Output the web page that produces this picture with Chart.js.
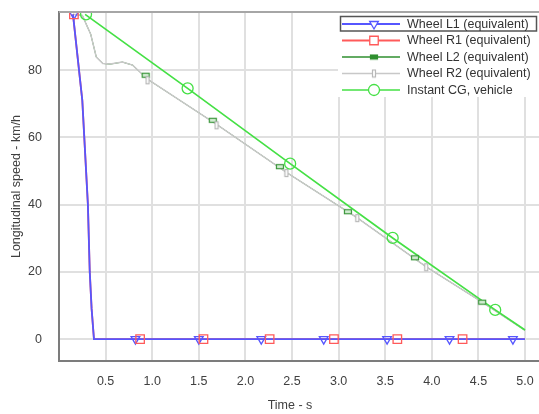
<!DOCTYPE html>
<html>
<head>
<meta charset="utf-8">
<script src="https://cdn.jsdelivr.net/npm/chart.js@4.4.1/dist/chart.umd.min.js"></script>
<style>
    html, body { margin: 0; padding: 0; background: #fff; }
    #wrap { width: 539px; height: 414px; }
</style>
</head>
<body>
<div id="wrap"><canvas id="speedChart"></canvas></div>
<script>
// series names (legend order)
var seriesNames = ['Wheel L1 (equivalent)', 'Wheel R1 (equivalent)', 'Wheel L2 (equivalent)', 'Wheel R2 (equivalent)', 'Instant CG, vehicle'];

// front wheels lock almost immediately
var l1Time = [0.15, 0.25, 0.31, 0.33, 0.35, 0.375, 5.0];
var l1Speed = [96.6, 71, 40, 20, 9, 0, 0];
var r1Time = [0.15, 0.25, 0.31, 0.33, 0.35, 0.375, 5.0];
var r1Speed = [96.6, 71, 40, 20, 9, 0, 0];

// rear wheels
var r2Time = [0.15, 0.25, 0.34, 0.40, 0.47, 0.55, 0.68, 0.79, 0.95, 1.69, 2.44, 3.20, 3.94, 4.54, 5.0];
var r2Speed = [96.6, 96.3, 90.7, 83.9, 82.0, 81.8, 82.4, 81.5, 77.3, 63.9, 49.6, 36.1, 21.5, 11.0, 2.6];
var l2Time = [0.15, 0.25, 0.34, 0.40, 0.47, 0.55, 0.68, 0.79, 0.95, 1.69, 2.44, 3.20, 3.94, 4.54, 5.0];
var l2Speed = [96.6, 96.3, 90.7, 83.9, 82.0, 81.8, 82.4, 81.5, 77.3, 63.9, 49.6, 36.1, 21.5, 11.0, 2.6];

// vehicle CG
var cgTime = [0.28, 1.38, 2.48, 3.58, 4.68, 5.0];
var cgSpeed = [96.6, 74.6, 52.2, 30.1, 8.7, 2.7];

// marker positions
var l1MarkTime = [0.16, 0.82, 1.50, 2.17, 2.84, 3.52, 4.19, 4.87];
var l1MarkSpeed = [96.6, 0, 0, 0, 0, 0, 0, 0];
var r1MarkTime = [0.16, 0.87, 1.55, 2.26, 2.95, 3.63, 4.33];
var r1MarkSpeed = [96.6, 0, 0, 0, 0, 0, 0];
var l2MarkTime = [0.93, 1.65, 2.37, 3.10, 3.82, 4.54];
var l2MarkSpeed = [78.5, 65.1, 51.3, 37.9, 24.2, 11.0];
var r2MarkTime = [0.95, 1.69, 2.44, 3.20, 3.94];
var r2MarkSpeed = [77.0, 63.6, 49.4, 36.0, 21.4];
var cgMarkTime = [0.29, 1.38, 2.48, 3.58, 4.68];
var cgMarkSpeed = [96.6, 74.6, 52.2, 30.1, 8.7];

var xTicksStep = 0.5;
var yTicksStep = 20;

function pts(xs, ys) {
    return xs.map(function (x, i) { return { x: x, y: ys[i] }; });
}

function rectMarker(w, h, stroke, fill) {
    var c = document.createElement('canvas');
    c.width = w + 2;
    c.height = h + 2;
    var g = c.getContext('2d');
    g.fillStyle = fill;
    g.fillRect(1, 1, w, h);
    g.strokeStyle = stroke;
    g.lineWidth = 1.2;
    g.strokeRect(1.5, 1.5, w - 1, h - 1);
    return c;
}

var blue = '#5656ff';
var red = '#ff5a5a';
var dkGreen = '#2f8f2f';
var gray = '#c8c8c8';
var green = '#45e045';

var l2Mark = rectMarker(8, 5, '#3a963a', '#d6eed6');
var r2Mark = rectMarker(4, 8, '#b8b8b8', '#fff');
var l2Legend = rectMarker(8, 5, dkGreen, dkGreen);

var styles = [
    { color: blue, width: 1.8, point: 'triangle', rot: 180, r: 5 },
    { color: red, width: 1.8, point: 'rect', rot: 0, r: 6 },
    { color: dkGreen, width: 1.6, point: l2Legend, rot: 0, r: 4 },
    { color: gray, width: 1.5, point: r2Mark, rot: 0, r: 4 },
    { color: green, width: 1.7, point: 'circle', rot: 0, r: 5.5 }
];

var font = '12.5px "Liberation Sans", Arial, sans-serif';
var textColor = '#404040';

function lineSet(label, data, st, order, width) {
    return {
        label: label, data: data, showLine: true, borderColor: st.color, borderWidth: width || st.width,
        pointRadius: 0, pointHoverRadius: 0, order: order, fill: false
    };
}
function markSet(data, st, style, order) {
    return {
        data: data, showLine: false, pointStyle: style, rotation: st.rot, pointRadius: st.r,
        pointHoverRadius: st.r, borderColor: st.color, backgroundColor: 'rgba(255,255,255,0)',
        pointBorderWidth: 1.3, order: order
    };
}

var frameAndLegend = {
    id: 'frameAndLegend',
    afterDatasetsDraw: function (chart) {
        var ctx = chart.ctx, a = chart.chartArea;
        ctx.save();
        // legend box
        var lx = a.right - 201, ly = a.top + 1;
        ctx.fillStyle = '#fff';
        ctx.fillRect(lx, ly, 201, 84);
        ctx.strokeStyle = '#555';
        ctx.lineWidth = 1.5;
        ctx.strokeRect(lx + 2.5, ly + 3.5, 196, 14.5);
        ctx.font = font;
        ctx.textBaseline = 'middle';
        for (var i = 0; i < seriesNames.length; i++) {
            var y = ly + 11 + i * 16.5;
            var st = styles[i];
            ctx.strokeStyle = st.color;
            ctx.lineWidth = st.width;
            ctx.beginPath();
            ctx.moveTo(lx + 4, y);
            ctx.lineTo(lx + 62, y);
            ctx.stroke();
            ctx.fillStyle = '#fff';
            ctx.lineWidth = 1.3;
            Chart.helpers.drawPoint(ctx, { pointStyle: st.point, rotation: st.rot, radius: st.r, borderWidth: 1.3 }, lx + 36, y);
            ctx.fillStyle = '#333';
            ctx.textAlign = 'left';
            ctx.fillText(seriesNames[i], lx + 69, y + 0.5);
        }
        ctx.restore();
    },
    afterDraw: function (chart) {
        var ctx = chart.ctx, a = chart.chartArea;
        ctx.save();
        ctx.strokeStyle = '#a6a6a6';
        ctx.lineWidth = 2;
        ctx.beginPath();
        ctx.moveTo(a.left, a.top);
        ctx.lineTo(a.right, a.top);
        ctx.stroke();
        // axis titles
        ctx.fillStyle = textColor;
        ctx.font = font;
        ctx.textAlign = 'center';
        ctx.textBaseline = 'middle';
        ctx.fillText('Time - s', a.left + 231, a.bottom + 45);
        ctx.translate(17, (a.top + a.bottom) / 2);
        ctx.rotate(-Math.PI / 2);
        ctx.fillText('Longitudinal speed - km/h', 0, 0);
        ctx.restore();
    }
};

new Chart(document.getElementById('speedChart'), {
    type: 'scatter',
    data: {
        datasets: [
            lineSet(seriesNames[2], pts(l2Time, l2Speed), styles[2], 20, 1),
            lineSet(seriesNames[3], pts(r2Time, r2Speed), styles[3], 19),
            lineSet(seriesNames[1], pts(r1Time, r1Speed), styles[1], 18),
            lineSet(seriesNames[0], pts(l1Time, l1Speed), styles[0], 17),
            lineSet(seriesNames[4], pts(cgTime, cgSpeed), styles[4], 16),
            markSet(pts(l1MarkTime, l1MarkSpeed), styles[0], 'triangle', 5),
            markSet(pts(r1MarkTime, r1MarkSpeed), styles[1], 'rect', 4),
            markSet(pts(l2MarkTime, l2MarkSpeed), styles[2], l2Mark, 3),
            markSet(pts(r2MarkTime, r2MarkSpeed), styles[3], r2Mark, 2),
            markSet(pts(cgMarkTime, cgMarkSpeed), styles[4], 'circle', 1)
        ]
    },
    options: {
        responsive: true,
        maintainAspectRatio: false,
        animation: false,
        layout: { autoPadding: false, padding: { top: 12, right: 0, left: 0, bottom: 0 } },
        plugins: { legend: { display: false }, tooltip: { enabled: false } },
        scales: {
            x: {
                type: 'linear', min: 0, max: 5.15,
                ticks: {
                    stepSize: xTicksStep, includeBounds: false, autoSkip: false, maxRotation: 0,
                    padding: 13, color: textColor, font: { family: '"Liberation Sans", Arial', size: 12.5 },
                    callback: function (v) { return v === 0 ? '' : v.toFixed(1); }
                },
                grid: { color: '#e0e0e0', lineWidth: 2, drawTicks: false },
                border: { color: '#7c7c7c', width: 2 },
                afterFit: function (s) { s.height = 53; s.paddingLeft = 0; s.paddingRight = 0; }
            },
            y: {
                min: -6.5, max: 97.3,
                ticks: {
                    stepSize: yTicksStep, includeBounds: false, padding: 17, color: textColor,
                    font: { family: '"Liberation Sans", Arial', size: 12.5 }
                },
                grid: { color: '#e0e0e0', lineWidth: 2, drawTicks: false },
                border: { color: '#7c7c7c', width: 2 },
                afterFit: function (s) { s.width = 59; s.paddingTop = 0; s.paddingBottom = 0; }
            }
        }
    },
    plugins: [frameAndLegend]
});
</script>
</body>
</html>
